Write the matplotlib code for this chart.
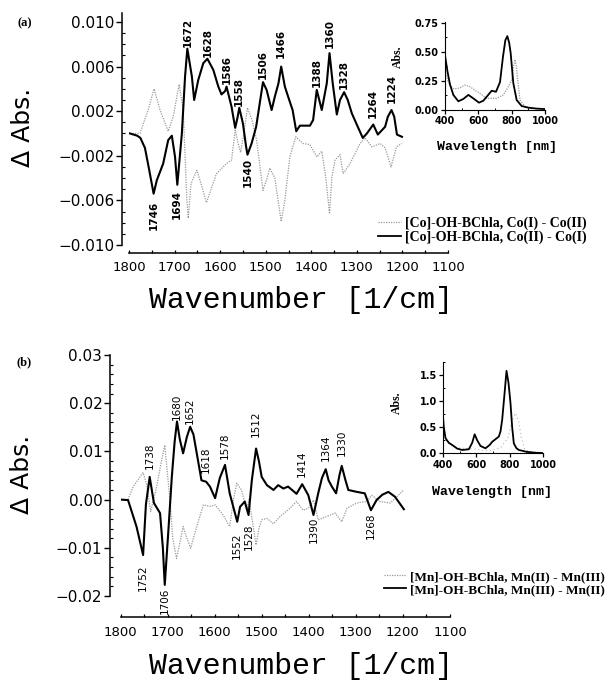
import numpy as np
import matplotlib
matplotlib.use("Agg")
import matplotlib.pyplot as plt
from matplotlib.ticker import MultipleLocator, FixedLocator, FuncFormatter
from matplotlib.lines import Line2D

# ---------------- data: panel (a) Co ----------------
wn_a_black = [1798, 1782, 1775, 1765, 1756, 1746, 1739, 1725, 1714, 1706, 1699, 1694,
              1684, 1677, 1672, 1662, 1657, 1648, 1637, 1628, 1615, 1604, 1597, 1589,
              1586, 1575, 1567, 1562, 1558, 1550, 1543, 1540, 1531, 1521, 1512, 1506,
              1498, 1487, 1480, 1472, 1466, 1458, 1450, 1441, 1433, 1425, 1410, 1403,
              1396, 1388, 1377, 1366, 1360, 1353, 1344, 1337, 1328, 1320, 1311, 1298,
              1287, 1278, 1264, 1254, 1238, 1232, 1224, 1218, 1212, 1201]
abs_a_black = [0.0, -0.0002, -0.0004, -0.0013, -0.0032, -0.0054, -0.0042, -0.0027, -0.0006, -0.0002,
               -0.0021, -0.0046, 0.0, 0.0051, 0.0076, 0.0051, 0.0030, 0.0048, 0.0063, 0.0067,
               0.0057, 0.0042, 0.0035, 0.0038, 0.0042, 0.0024, 0.0005, 0.0014, 0.0023, 0.0009,
               -0.0012, -0.0019, -0.0009, 0.0006, 0.0030, 0.0046, 0.0039, 0.0021, 0.0033, 0.0045,
               0.0060, 0.0042, 0.0032, 0.0021, 0.0002, 0.0007, 0.0007, 0.0007, 0.0012, 0.0039,
               0.0021, 0.0045, 0.0072, 0.0045, 0.0017, 0.0030, 0.0037, 0.0030, 0.0018, 0.0006,
               -0.0004, 0.0, 0.0008, -0.0001, 0.0006, 0.0015, 0.0021, 0.0015, -0.0001, -0.0003]

wn_a_gray = [1798, 1776, 1758, 1745, 1732, 1714, 1703, 1690, 1681, 1673, 1670, 1664,
             1651, 1642, 1630, 1620, 1608, 1586, 1575, 1567, 1561, 1555, 1548, 1540,
             1530, 1520, 1506, 1497, 1491, 1480, 1466, 1458, 1447, 1434, 1418, 1403,
             1388, 1377, 1368, 1360, 1355, 1348, 1337, 1330, 1315, 1293, 1282, 1267,
             1249, 1238, 1225, 1213, 1202]
abs_a_gray = [0.0, 0.0, 0.0021, 0.0040, 0.0021, 0.0002, 0.0015, 0.0044, 0.0021, -0.0060, -0.0076, -0.0045,
              -0.0033, -0.0045, -0.0062, -0.0050, -0.0036, -0.0027, -0.0024, 0.0003, -0.0008, -0.0017, 0.0, 0.0023,
              0.0012, -0.0006, -0.0051, -0.0040, -0.0031, -0.0040, -0.0079, -0.0060, -0.0021, -0.0003, -0.0009, -0.0010,
              -0.0021, -0.0016, -0.0040, -0.0072, -0.0040, -0.0024, -0.0019, -0.0036, -0.0027, -0.0009, -0.0004, -0.0012,
              -0.0009, -0.0013, -0.0030, -0.0012, -0.0009]

peaks_a_up = [1672, 1628, 1586, 1558, 1506, 1466, 1388, 1360, 1328, 1264, 1224]
peaks_a_down = [1746, 1694, 1540]

# inset (a)
wl_a_black = [400, 415, 430, 450, 480, 510, 540, 570, 604, 630, 650, 680, 706, 730, 748, 762,
              774, 785, 794, 810, 830, 860, 900, 950, 1000]
ab_a_black = [0.47, 0.33, 0.22, 0.13, 0.075, 0.095, 0.13, 0.10, 0.063, 0.08, 0.114, 0.166, 0.157,
              0.24, 0.46, 0.60, 0.636, 0.58, 0.49, 0.23, 0.086, 0.034, 0.02, 0.012, 0.008]
wl_a_gray = [400, 415, 430, 455, 490, 520, 550, 580, 610, 650, 680, 710, 750, 778, 800, 812,
             820, 828, 834, 850, 880, 920, 1000]
ab_a_gray = [0.34, 0.26, 0.21, 0.18, 0.19, 0.215, 0.20, 0.17, 0.143, 0.10, 0.10, 0.10, 0.13,
             0.195, 0.26, 0.38, 0.435, 0.38, 0.29, 0.086, 0.03, 0.015, 0.008]

# ---------------- data: panel (b) Mn ----------------
wn_b_black = [1800, 1784, 1766, 1752, 1746, 1738, 1729, 1716, 1710, 1706, 1698, 1691, 1685,
              1680, 1674, 1667, 1659, 1652, 1645, 1638, 1628, 1618, 1610, 1599, 1589, 1578,
              1568, 1552, 1546, 1536, 1528, 1521, 1512, 1506, 1500, 1489, 1475, 1465, 1454,
              1444, 1426, 1414, 1401, 1390, 1380, 1372, 1364, 1358, 1351, 1342, 1335, 1330,
              1322, 1316, 1298, 1281, 1268, 1256, 1244, 1231, 1217, 1198]
abs_b_black = [0.0, -0.0001, -0.0056, -0.0115, -0.0010, 0.0047, -0.0007, -0.0028, -0.0100, -0.0177,
               -0.0060, 0.0047, 0.0120, 0.0162, 0.0125, 0.0096, 0.0130, 0.0151, 0.0135, 0.0096,
               0.0040, 0.0037, 0.0027, 0.0003, 0.0045, 0.0072, 0.0013, -0.0046, -0.0015, -0.0004,
               -0.0032, 0.0040, 0.0106, 0.0080, 0.0047, 0.0030, 0.0020, 0.0030, 0.0023, 0.0027,
               0.0012, 0.0032, 0.0009, -0.0032, 0.0013, 0.0045, 0.0063, 0.0040, 0.0027, 0.0013,
               0.0050, 0.0070, 0.0040, 0.0020, 0.0016, 0.0013, -0.0022, -0.0001, 0.0010, 0.0016,
               0.0006, -0.0020]

wn_b_gray = [1800, 1784, 1773, 1752, 1744, 1736, 1723, 1715, 1706, 1695, 1689, 1681, 1674,
             1667, 1659, 1651, 1645, 1638, 1624, 1610, 1599, 1582, 1568, 1560, 1553, 1543,
             1532, 1527, 1519, 1512, 1506, 1500, 1489, 1475, 1461, 1440, 1426, 1412, 1401,
             1390, 1380, 1362, 1344, 1330, 1319, 1298, 1277, 1266, 1249, 1227, 1198]
abs_b_gray = [0.0, 0.0, 0.0027, 0.0056, 0.0030, -0.0025, 0.0027, 0.0070, 0.0113, 0.0, -0.0080,
              -0.0122, -0.0090, -0.0056, -0.0080, -0.0101, -0.0080, -0.0056, -0.0011, -0.0014, -0.0011,
              -0.0032, -0.0056, 0.0, 0.0034, 0.0020, -0.0022, 0.0, -0.0050, -0.0094, -0.0060,
              -0.0042, -0.0039, -0.0050, -0.0035, -0.0018, -0.0004, -0.0022, -0.0018, -0.0001, -0.0042,
              -0.0035, -0.0028, -0.0046, -0.0018, -0.0007, -0.0004, 0.0009, -0.0004, -0.0007, 0.0020]

peaks_b_up = [1738, 1680, 1652, 1618, 1578, 1512, 1414, 1364, 1330]
peaks_b_down = [1752, 1706, 1552, 1528, 1390, 1268]

# inset (b)
wl_b_black = [400, 405, 415, 435, 455, 485, 515, 555, 575, 590, 605, 625, 655, 680, 695, 715,
              735, 745, 755, 768, 781, 793, 805, 815, 825, 840, 855, 900, 955, 1000]
ab_b_black = [0.70, 0.50, 0.29, 0.20, 0.16, 0.09, 0.064, 0.077, 0.20, 0.364, 0.25, 0.14, 0.096,
              0.16, 0.22, 0.27, 0.32, 0.42, 0.64, 1.10, 1.58, 1.35, 0.96, 0.50, 0.19, 0.10, 0.064,
              0.03, 0.01, 0.005]
wl_b_gray = [400, 420, 450, 500, 550, 600, 650, 700, 750, 790, 812, 835, 855, 870, 890, 920, 1000]
ab_b_gray = [0.55, 0.25, 0.15, 0.10, 0.09, 0.08, 0.05, 0.06, 0.12, 0.30, 0.60, 0.77, 0.60, 0.30,
             0.08, 0.03, 0.01]

legend_a = ["[Co]-OH-BChla, Co(I) - Co(II)", "[Co]-OH-BChla, Co(II) - Co(I)"]
legend_b = ["[Mn]-OH-BChla, Mn(II) - Mn(III)", "[Mn]-OH-BChla, Mn(III) - Mn(II)"]

# ---------------- style ----------------
W, H = 608, 683
GRAY = "#9a9a9a"
SANS = "DejaVu Sans"
SERIF = "Liberation Serif"
MONO = "Liberation Mono"

fig = plt.figure(figsize=(W / 100, H / 100), dpi=100)


def px(x0, y0, x1, y1):
    return [x0 / W, 1 - y1 / H, (x1 - x0) / W, (y1 - y0) / H]


def minus_fmt(fmt):
    return FuncFormatter(lambda v, p: (fmt % v).replace("-", "\u2212"))


def style_main(ax, left_out, bottom_out, yfmt, ymajor, yminor):
    for s in ("top", "right"):
        ax.spines[s].set_visible(False)
    ax.spines["left"].set_position(("outward", left_out))
    ax.spines["bottom"].set_position(("outward", bottom_out))
    ax.spines["left"].set_linewidth(1.1)
    ax.spines["bottom"].set_linewidth(1.1)
    ax.set_xlim(1800, 1100)
    ax.xaxis.set_major_locator(MultipleLocator(100))
    ax.xaxis.set_minor_locator(MultipleLocator(50))
    ax.yaxis.set_major_locator(ymajor)
    ax.yaxis.set_minor_locator(MultipleLocator(yminor))
    ax.yaxis.set_major_formatter(minus_fmt(yfmt))
    ax.tick_params(axis="x", which="both", direction="in", length=2.5, width=0.9,
                   pad=6, labelsize=9.5)
    ax.tick_params(axis="y", which="major", direction="out", length=4, width=1.0,
                   pad=1.5, labelsize=11)
    ax.tick_params(axis="y", which="minor", direction="in", length=2, width=0.8)
    for lab in ax.get_xticklabels() + ax.get_yticklabels():
        lab.set_family(SANS)
    ax.patch.set_alpha(0)


def annotate(ax, wn, vals, peaks, offsets, up, weight):
    for p in peaks:
        yv = np.interp(p, wn[::-1], vals[::-1])
        off = offsets.get(p, 3)
        ax.annotate(str(p), xy=(p, yv), xytext=(0, off if up else -off),
                    textcoords="offset points", rotation=90, ha="center",
                    va="bottom" if up else "top", fontsize=7.5, fontweight=weight,
                    family=SANS)


def style_inset(ax, ymax, yticks, yfmt):
    for s in ("top", "right"):
        ax.spines[s].set_visible(False)
    ax.set_xlim(400, 1000)
    ax.set_ylim(0, ymax)
    ax.xaxis.set_major_locator(MultipleLocator(200))
    ax.xaxis.set_minor_locator(MultipleLocator(100))
    ax.yaxis.set_major_locator(FixedLocator(yticks))
    ax.yaxis.set_major_formatter(FuncFormatter(lambda v, p: yfmt % v))
    ax.tick_params(which="major", direction="out", length=3, width=0.9, pad=1.5, labelsize=7)
    ax.tick_params(which="minor", direction="in", length=1.5, width=0.7)
    for lab in ax.get_xticklabels() + ax.get_yticklabels():
        lab.set_family(SANS)
        lab.set_fontweight("bold")
    ax.patch.set_alpha(0)


# ---------------- panel (a) ----------------
ax_a = fig.add_axes(px(129, 13, 448, 245))
ax_a.plot(wn_a_gray, abs_a_gray, color=GRAY, lw=0.9, ls=(0, (1, 1)))
ax_a.plot(wn_a_black, abs_a_black, color="black", lw=1.5)
ax_a.set_ylim(-0.010, 0.0108)
style_main(ax_a, 5, 5.8, "%.3f", FixedLocator([-0.010, -0.006, -0.002, 0.002, 0.006, 0.010]), 0.001)
off_a = {1672: 1, 1628: 1, 1586: 2, 1558: 1, 1506: 2, 1466: 6, 1388: 2, 1360: 4, 1328: 2,
         1264: 5, 1224: 5, 1746: 5, 1694: 4, 1540: 2}
annotate(ax_a, wn_a_black, abs_a_black, peaks_a_up, off_a, True, "bold")
annotate(ax_a, wn_a_black, abs_a_black, peaks_a_down, off_a, False, "bold")

ax_a.legend([Line2D([], [], color=GRAY, lw=0.9, ls=(0, (1, 1))),
             Line2D([], [], color="black", lw=1.3)], legend_a,
            loc="lower right", bbox_to_anchor=(587 / W, 1 - 244 / H),
            bbox_transform=fig.transFigure, frameon=False, handlelength=1.7,
            handletextpad=0.3, labelspacing=0.05, borderpad=0, borderaxespad=0,
            prop={"family": SERIF, "weight": "bold", "size": 10})

ins_a = fig.add_axes(px(445, 21.7, 545, 110))
ins_a.plot(wl_a_gray, ab_a_gray, color=GRAY, lw=0.9, ls=(0, (1, 1)))
ins_a.plot(wl_a_black, ab_a_black, color="black", lw=1.3)
style_inset(ins_a, 0.76, [0, 0.25, 0.5, 0.75], "%.2f")
ins_a.yaxis.set_minor_locator(MultipleLocator(0.125))

fig.text(398 / W, 1 - 57 / H, "Abs.", rotation=90, ha="center", va="center",
         family=SERIF, fontweight="bold", fontsize=8.5)
fig.text(497 / W, 1 - 147 / H, "Wavelength [nm]", ha="center", va="center",
         family=MONO, fontweight="bold", fontsize=9.5)

fig.text(25 / W, 1 - 23 / H, "(a)", ha="center", va="center", family=SERIF,
         fontweight="bold", fontsize=9)
fig.text(23 / W, 1 - 127 / H, "\u0394 Abs.", rotation=90, ha="center", va="center",
         family=SANS, fontsize=18)
fig.text(301 / W, 1 - 300 / H, "Wavenumber [1/cm]", ha="center", va="center",
         family=MONO, fontsize=21.5)

# ---------------- panel (b) ----------------
ax_b = fig.add_axes(px(120.5, 355, 450, 596))
ax_b.plot(wn_b_gray, abs_b_gray, color=GRAY, lw=0.9, ls=(0, (1, 1)))
ax_b.plot(wn_b_black, abs_b_black, color="black", lw=1.5)
ax_b.set_ylim(-0.02, 0.03)
style_main(ax_b, 7.6, 15.3, "%.2f", MultipleLocator(0.01), 0.002)
off_b = {1738: 6, 1680: 1, 1652: 2, 1618: 6, 1578: 4, 1512: 8, 1414: 5, 1364: 6, 1330: 7,
         1752: 7, 1706: 2, 1552: 8, 1528: 6, 1390: 1, 1268: 2}
annotate(ax_b, wn_b_black, abs_b_black, peaks_b_up, off_b, True, "normal")
annotate(ax_b, wn_b_black, abs_b_black, peaks_b_down, off_b, False, "normal")

ax_b.legend([Line2D([], [], color=GRAY, lw=0.9, ls=(0, (1, 1))),
             Line2D([], [], color="black", lw=1.3)], legend_b,
            loc="lower right", bbox_to_anchor=(605 / W, 1 - 596 / H),
            bbox_transform=fig.transFigure, frameon=False, handlelength=1.7,
            handletextpad=0.3, labelspacing=0.05, borderpad=0, borderaxespad=0,
            prop={"family": SERIF, "weight": "bold", "size": 9.5})

ins_b = fig.add_axes(px(443, 361.7, 543, 453.3))
ins_b.plot(wl_b_gray, ab_b_gray, color="#b5b5b5", lw=0.8, ls=(0, (1, 2.5)))
ins_b.plot(wl_b_black, ab_b_black, color="black", lw=1.3)
style_inset(ins_b, 1.755, [0, 0.5, 1.0, 1.5], "%.1f")
ins_b.yaxis.set_minor_locator(MultipleLocator(0.25))

fig.text(397 / W, 1 - 403 / H, "Abs.", rotation=90, ha="center", va="center",
         family=SERIF, fontweight="bold", fontsize=8.5)
fig.text(492 / W, 1 - 492 / H, "Wavelength [nm]", ha="center", va="center",
         family=MONO, fontweight="bold", fontsize=9.5)

fig.text(24 / W, 1 - 362 / H, "(b)", ha="center", va="center", family=SERIF,
         fontweight="bold", fontsize=9)
fig.text(22 / W, 1 - 474 / H, "\u0394 Abs.", rotation=90, ha="center", va="center",
         family=SANS, fontsize=18)
fig.text(301 / W, 1 - 666 / H, "Wavenumber [1/cm]", ha="center", va="center",
         family=MONO, fontsize=21.5)

fig.savefig("out.png", dpi=100, facecolor="white")
